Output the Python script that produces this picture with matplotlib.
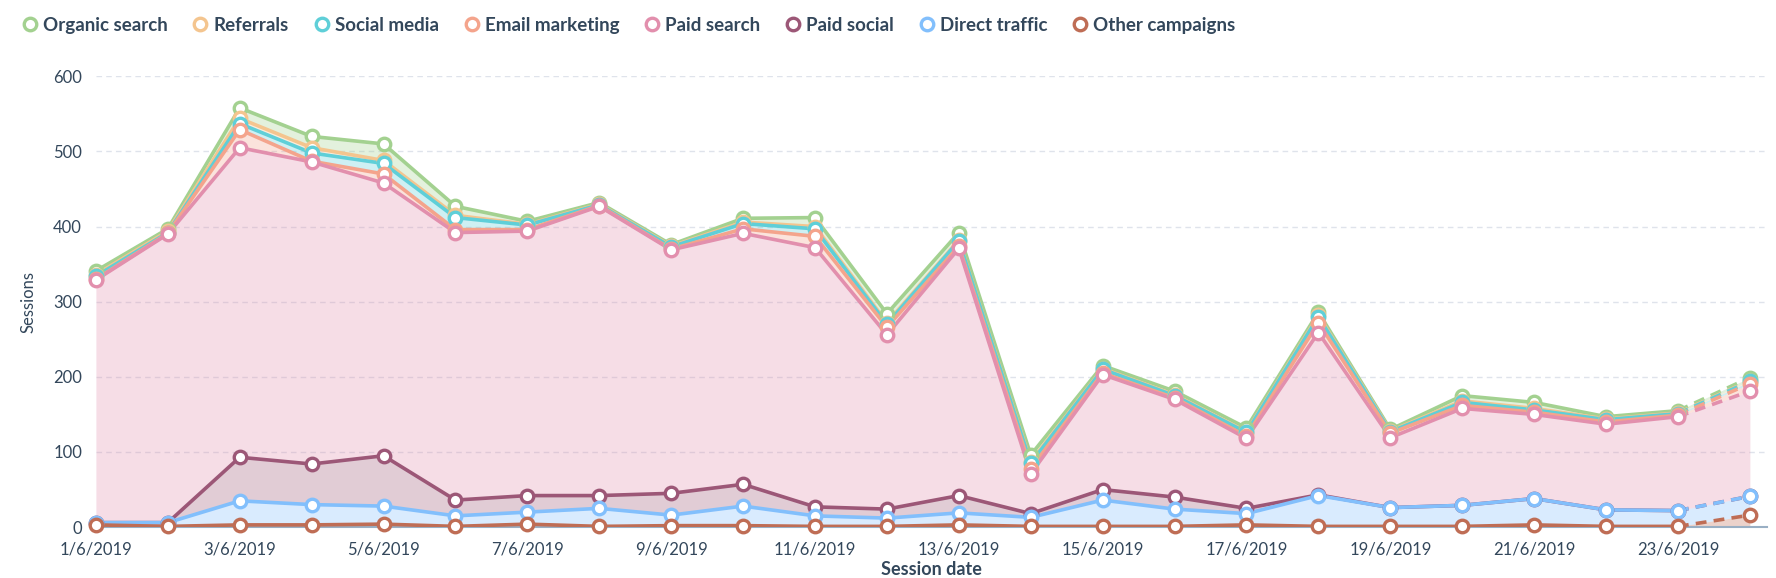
import matplotlib.pyplot as plt
from matplotlib.lines import Line2D
import numpy as np

plt.rcParams['font.family'] = ['Lato', 'DejaVu Sans']

dates = ['1/6/2019', '2/6/2019', '3/6/2019', '4/6/2019', '5/6/2019', '6/6/2019',
         '7/6/2019', '8/6/2019', '9/6/2019', '10/6/2019', '11/6/2019', '12/6/2019',
         '13/6/2019', '14/6/2019', '15/6/2019', '16/6/2019', '17/6/2019', '18/6/2019',
         '19/6/2019', '20/6/2019', '21/6/2019', '22/6/2019', '23/6/2019', '24/6/2019']

# sessions per source, stacking order bottom -> top
other_campaigns = [3, 1, 3, 3, 4, 1, 4, 1, 2, 2, 1, 1, 3, 1, 1, 1, 3, 1, 1, 1, 3, 1, 1, 16]
direct_traffic = [3, 5, 32, 27, 24, 14, 16, 24, 14, 26, 14, 11, 16, 12, 35, 23, 15, 41, 25, 28, 35, 22, 21, 25]
paid_social = [0, 0, 58, 54, 67, 21, 22, 17, 29, 29, 12, 12, 23, 5, 14, 16, 7, 1, 0, 0, 0, 0, 0, 0]
paid_search = [323, 384, 412, 402, 363, 356, 352, 385, 324, 334, 345, 232, 329, 53, 153, 130, 93, 216, 93, 129, 112, 114, 125, 140]
email_marketing = [1, 1, 24, 1, 12, 4, 2, 1, 1, 6, 15, 10, 3, 7, 2, 2, 3, 13, 6, 4, 3, 3, 2, 10]
social_media = [4, 1, 8, 11, 14, 16, 6, 1, 3, 7, 10, 4, 7, 7, 5, 3, 5, 8, 2, 4, 3, 3, 2, 3]
referrals = [2, 2, 7, 7, 4, 3, 1, 1, 1, 2, 3, 2, 1, 2, 1, 1, 1, 2, 1, 2, 2, 1, 1, 1]
organic_search = [5, 3, 14, 15, 22, 12, 4, 2, 2, 5, 12, 12, 10, 9, 4, 5, 5, 4, 2, 7, 8, 3, 3, 4]

series = [
    ('Other campaigns', other_campaigns, '#bf6d55'),
    ('Direct traffic', direct_traffic, '#82bffc'),
    ('Paid social', paid_social, '#9c5777'),
    ('Paid search', paid_search, '#e28fad'),
    ('Email marketing', email_marketing, '#f4a48c'),
    ('Social media', social_media, '#5fcfd8'),
    ('Referrals', referrals, '#f4c58f'),
    ('Organic search', organic_search, '#a3d190'),
]

x = np.arange(len(dates))
fig = plt.figure(figsize=(17.76, 5.78), dpi=100)
ax = fig.add_axes([0.054, 0.088, 0.941, 0.780])

bottom = np.zeros(len(dates))
lines = []
for name, vals, col in series:
    top = bottom + np.array(vals)
    ax.fill_between(x, bottom, top, color=col, alpha=0.3, lw=0, zorder=1)
    lines.append((top.copy(), col))
    bottom = top

# lower series are drawn over the upper ones
n = len(lines)
for i, (top, col) in enumerate(lines):
    z = 3 + (n - i)
    ax.plot(x[:-1], top[:-1], color=col, lw=2.6, zorder=z, solid_joinstyle='round')
    ax.plot(x[-2:], top[-2:], color=col, lw=2.6, ls=(0, (3, 2)), zorder=z)
    ax.plot(x, top, ls='none', marker='o', ms=9, mfc='white', mec=col, mew=2.4,
            zorder=z + 20, clip_on=False)

ax.set_xlim(0, 23.24)
ax.set_ylim(0, 600)
ax.set_yticks([0, 100, 200, 300, 400, 500, 600])
ax.set_xticks(x[::2])
ax.set_xticklabels(dates[::2])
ax.grid(axis='y', color='#dfe3eb', ls=(0, (4, 3)), lw=1)
ax.set_axisbelow(True)
for s in ['top', 'right', 'left']:
    ax.spines[s].set_visible(False)
ax.spines['bottom'].set_color('#99afc4')
ax.spines['bottom'].set_linewidth(1.5)
ax.spines['bottom'].set_zorder(2)
ax.tick_params(axis='both', length=0, labelsize=12, labelcolor='#33475b', pad=10)
ax.set_ylabel('Sessions', fontsize=12, color='#33475b', labelpad=12)
ax.set_xlabel('Session date', fontsize=13, color='#33475b', fontweight='bold', labelpad=3)

handles = [Line2D([], [], ls='none', marker='o', ms=9, mfc='white', mec=col, mew=2.4)
           for name, vals, col in series[::-1]]
labels = [name for name, vals, col in series[::-1]]
fig.legend(handles, labels, loc='upper left', bbox_to_anchor=(0.002, 1.0), ncol=8,
           frameon=False, handletextpad=0.2, columnspacing=1.25,
           handlelength=1.0, labelcolor='#33475b', prop={'weight': 'bold', 'size': 13.5})

fig.savefig('out.png', dpi=100)
